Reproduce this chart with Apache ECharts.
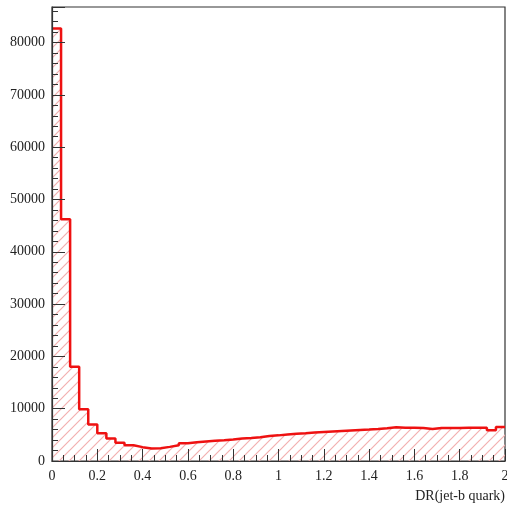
<!DOCTYPE html>
<html>
<head>
<meta charset="utf-8">
<script src="https://cdn.jsdelivr.net/npm/echarts@6/dist/echarts.min.js"></script>
<style>
html,body{margin:0;padding:0;background:#fff;}
#c{width:507px;height:506px;}
</style>
</head>
<body>
<div id="c"></div>
<script>
// Histogram of DR(jet-b quark): 50 bins from 0 to 2
const binStart = 0;
const binWidth = 0.04;
const counts = [
  82700, 46200, 18000, 9900, 7000, 5300, 4300, 3500, 3000, 2650,
  2400, 2450, 2700, 3000, 3400, 3600, 3750, 3850, 3950, 4100,
  4300, 4400, 4550, 4800, 4900, 5050, 5200, 5300, 5450, 5550,
  5650, 5750, 5850, 5950, 6000, 6100, 6250, 6450, 6350, 6350,
  6300, 6100, 6300, 6300, 6300, 6350, 6350, 6350, 5900, 6500
];
const xTicks = [0, 0.2, 0.4, 0.6, 0.8, 1, 1.2, 1.4, 1.6, 1.8, 2];
const yTicks = [0, 10000, 20000, 30000, 40000, 50000, 60000, 70000, 80000];
const xTitle = 'DR(jet-b quark)';
const yMax = 86800;

// step data: left edge of each bin, then closing point at the right edge
const stepData = counts.map((v, i) => [+(binStart + i * binWidth).toFixed(4), v]);
stepData.push([+(binStart + counts.length * binWidth).toFixed(4), counts[counts.length - 1]]);

// hatch pattern (transparent tile, pink diagonal strokes)
const tile = document.createElement('canvas');
const T = 10;
tile.width = T; tile.height = T;
const g = tile.getContext('2d');
g.strokeStyle = '#f3b0b0';
g.lineWidth = 1.2;
g.beginPath();
g.moveTo(0, T); g.lineTo(T, 0);
g.moveTo(-T/2, T/2); g.lineTo(T/2, -T/2);
g.moveTo(T/2, T*1.5); g.lineTo(T*1.5, T/2);
g.stroke();

const font = 'Liberation Serif';
const chart = echarts.init(document.getElementById('c'), null, {renderer: 'canvas'});
chart.setOption({
  animation: false,
  backgroundColor: '#fff',
  grid: {left: 52, right: 2, top: 7, bottom: 45, outerBoundsMode: 'none', containLabel: false,
    show: true, borderColor: '#333', borderWidth: 1.2, backgroundColor: 'transparent'},
  xAxis: {
    type: 'value', min: xTicks[0], max: xTicks[xTicks.length - 1], interval: 0.2, z: 5,
    axisLine: {show: true, lineStyle: {color: '#333', width: 1.2}},
    axisTick: {show: true, inside: true, length: 12, lineStyle: {color: '#333', width: 1}},
    minorTick: {show: true, splitNumber: 4, length: 6, lineStyle: {color: '#333', width: 1}},
    splitLine: {show: false},
    axisLabel: {fontFamily: font, fontSize: 14, color: '#222', margin: 8,
      formatter: v => String(+v.toFixed(2))}
  },
  yAxis: {
    type: 'value', min: 0, max: yMax, interval: 10000, z: 5,
    axisLine: {show: true, lineStyle: {color: '#333', width: 1.2}},
    axisTick: {show: true, inside: true, length: 13, lineStyle: {color: '#333', width: 1}},
    minorTick: {show: true, splitNumber: 5, length: 6, lineStyle: {color: '#333', width: 1}},
    splitLine: {show: false},
    axisLabel: {fontFamily: font, fontSize: 14, color: '#222', margin: 7, showMaxLabel: false,
      formatter: v => (yTicks.indexOf(v) >= 0 ? String(v) : '')}
  },
  graphic: [{
    type: 'text', right: 2, top: 489,
    style: {text: xTitle, font: '14px "Liberation Serif"', fill: '#222'}
  }],
  series: [{
    type: 'line', step: 'end', symbol: 'none', data: stepData,
    lineStyle: {color: '#ee1111', width: 2.5},
    areaStyle: {color: {image: tile, repeat: 'repeat'}, opacity: 1},
    z: 1
  }]
});
</script>
</body>
</html>
